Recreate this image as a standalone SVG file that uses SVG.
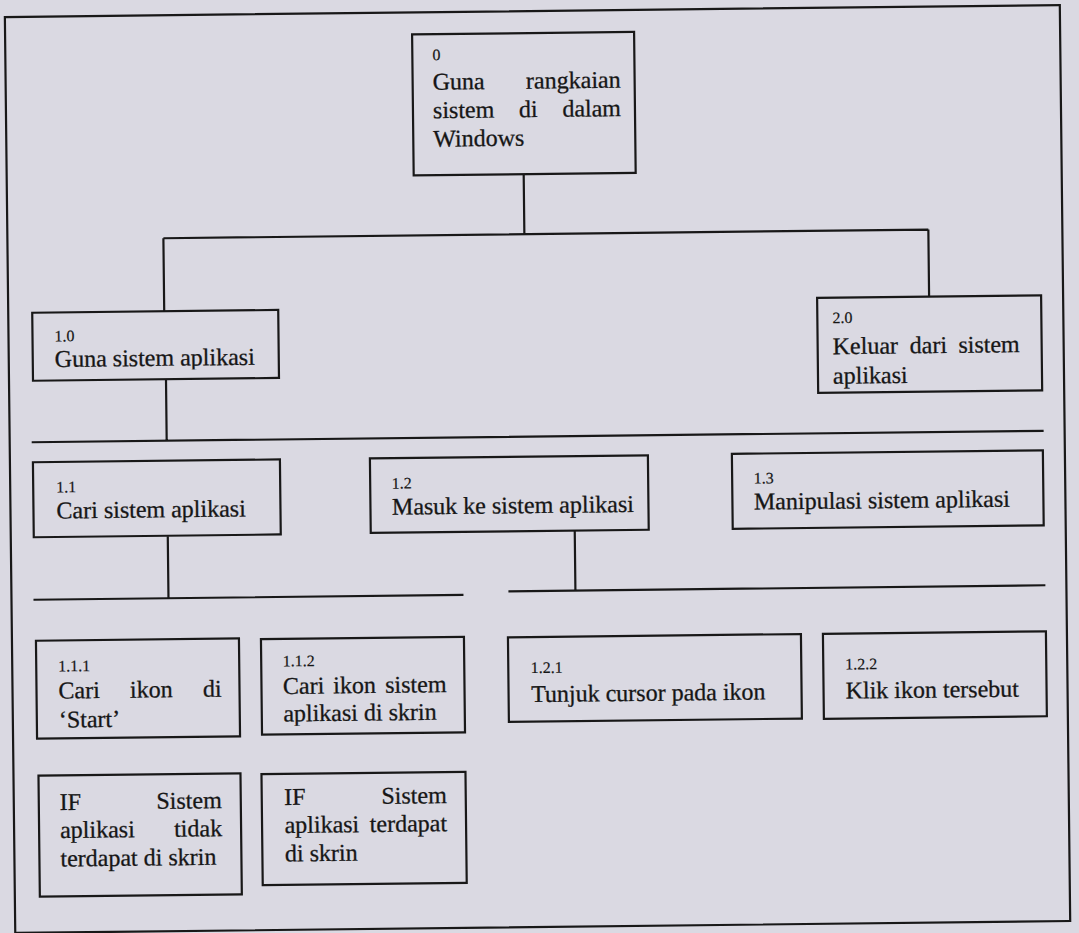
<svg xmlns="http://www.w3.org/2000/svg" width="1079" height="933" viewBox="0 0 1079 933">
<style>
.bx{fill:none;stroke:#181818;stroke-width:2.2}
.ln{fill:none;stroke:#181818;stroke-width:2.2}
.t{font-family:"Liberation Serif","Times New Roman",serif;font-size:24px;fill:#161616;stroke:#161616;stroke-width:0.3}
.n{font-family:"Liberation Serif","Times New Roman",serif;font-size:16px;fill:#161616;stroke:#161616;stroke-width:0.2}
.e{text-anchor:end}
</style>
<defs>
<clipPath id="c10"><rect x="34" y="307" width="246" height="58.5"/></clipPath>
<clipPath id="c20"><rect x="819" y="301" width="224" height="92.5"/></clipPath>
<clipPath id="c112"><rect x="259" y="636" width="203" height="87"/></clipPath>
</defs>
<rect width="1079" height="933" fill="#dad9e2"/>
<g transform="rotate(-0.65 540 466)">
<rect id="frame" x="10" y="11" width="1055" height="916" class="bx"/>
<g id="connectors">
<path class="ln" d="M527 174V234M166 234H931M166 234V307M931 234V301M167 375V436.5M32 436.5H1044M167 532V594M32 594H462M574 531V591M507 591H1044"/>
</g>
<g id="n0">
<rect class="bx" x="417" y="33" width="222" height="141"/>
<text class="n" x="437" y="59">0</text>
<text class="t" y="88.5"><tspan x="437">Guna</tspan><tspan class="e" x="625">rangkaian</tspan></text>
<text class="t" y="117"><tspan x="437">sistem</tspan><tspan x="523">di</tspan><tspan class="e" x="625">dalam</tspan></text>
<text class="t" x="437" y="145.5">Windows</text>
</g>
<g id="n1_0">
<rect class="bx" x="34" y="307" width="246" height="68"/>
<g clip-path="url(#c10)">
<text class="n" x="56" y="336">1.0</text>
<text class="t" x="56" y="361.5">Guna sistem aplikasi</text>
</g>
</g>
<g id="n2_0">
<rect class="bx" x="819" y="301" width="224" height="95"/>
<g clip-path="url(#c20)">
<text class="n" x="834" y="326.5">2.0</text>
<text class="t" y="357.5"><tspan x="834">Keluar</tspan><tspan x="911">dari</tspan><tspan class="e" x="1021">sistem</tspan></text>
<text class="t" x="834" y="387">aplikasi</text>
</g>
</g>
<g id="n1_1">
<rect class="bx" x="33" y="456.5" width="247" height="75"/>
<text class="n" x="56" y="487">1.1</text>
<text class="t" x="56" y="513">Cari sistem aplikasi</text>
</g>
<g id="n1_2">
<rect class="bx" x="370" y="456.5" width="278" height="74.5"/>
<text class="n" x="391.5" y="487">1.2</text>
<text class="t" x="391.5" y="513">Masuk ke sistem aplikasi</text>
</g>
<g id="n1_3">
<rect class="bx" x="732" y="456" width="311" height="75"/>
<text class="n" x="753.5" y="486">1.3</text>
<text class="t" x="753.5" y="512">Manipulasi sistem aplikasi</text>
</g>
<g id="n1_1_1">
<rect class="bx" x="34" y="635" width="203" height="98"/>
<text class="n" x="56" y="666">1.1.1</text>
<text class="t" y="693"><tspan x="56">Cari</tspan><tspan x="127.5">ikon</tspan><tspan class="e" x="219">di</tspan></text>
<text class="t" x="56" y="722">‘Start’</text>
</g>
<g id="n1_1_2">
<rect class="bx" x="259" y="636" width="203" height="95.5"/>
<g clip-path="url(#c112)">
<text class="n" x="280.5" y="663.5">1.1.2</text>
<text class="t" y="691"><tspan x="280.5">Cari</tspan><tspan x="330.8">ikon</tspan><tspan class="e" x="444">sistem</tspan></text>
<text class="t" x="280.5" y="718.5">aplikasi di skrin</text>
</g>
</g>
<g id="n_if1">
<rect class="bx" x="35" y="770" width="202" height="121"/>
<text class="t" y="804.5"><tspan x="56">IF</tspan><tspan class="e" x="218">Sistem</tspan></text>
<text class="t" y="832.5"><tspan x="56">aplikasi</tspan><tspan class="e" x="218">tidak</tspan></text>
<text class="t" x="56" y="861">terdapat di skrin</text>
</g>
<g id="n_if2">
<rect class="bx" x="258" y="771" width="204" height="111"/>
<text class="t" y="802"><tspan x="280.5">IF</tspan><tspan class="e" x="443">Sistem</tspan></text>
<text class="t" y="830"><tspan x="280.5">aplikasi</tspan><tspan class="e" x="443">terdapat</tspan></text>
<text class="t" x="280.5" y="858.5">di skrin</text>
</g>
<g id="n1_2_1">
<rect class="bx" x="506" y="637" width="293" height="84.5"/>
<text class="n" x="528.5" y="673">1.2.1</text>
<text class="t" x="528.5" y="702">Tunjuk cursor pada ikon</text>
</g>
<g id="n1_2_2">
<rect class="bx" x="821" y="637" width="223" height="85"/>
<text class="n" x="843" y="673">1.2.2</text>
<text class="t" x="843" y="702">Klik ikon tersebut</text>
</g>
</g>
</svg>
